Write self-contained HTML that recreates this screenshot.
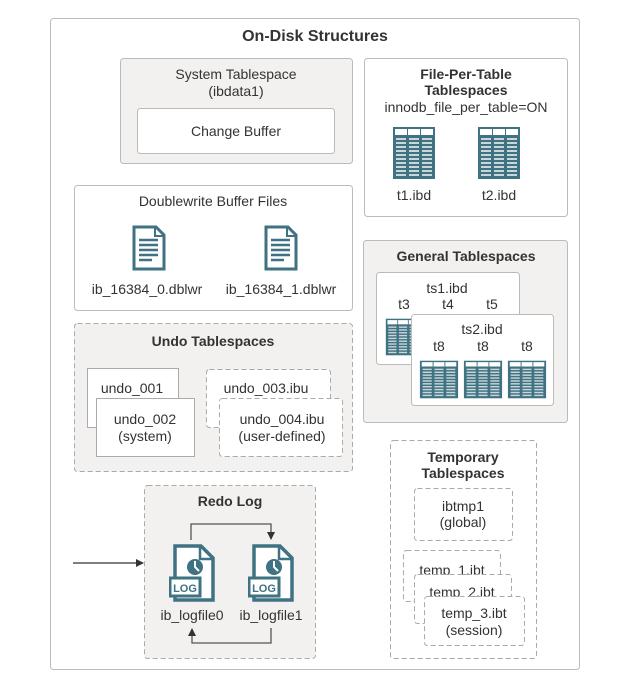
<!DOCTYPE html>
<html><head><meta charset="utf-8"><style>
html,body{margin:0;padding:0;background:#fff;}
svg{display:block;}
text{font-family:"Liberation Sans",sans-serif;fill:#333;}
.t{font-size:14px;}
.b{font-size:14px;font-weight:bold;}
</style></head><body>
<svg width="640" height="679" viewBox="0 0 640 679" xmlns="http://www.w3.org/2000/svg">
<defs>
<symbol id="tbl" viewBox="0 0 44 54" preserveAspectRatio="none">
<rect x="1" y="1" width="42" height="52" fill="#3f7282"/>
<rect x="3" y="3" width="12" height="6" fill="#fff"/><rect x="16" y="3" width="12" height="6" fill="#fff"/><rect x="29" y="3" width="12" height="6" fill="#fff"/>
<g fill="#c9d6da">
<rect x="4" y="12" width="10" height="2"/><rect x="4" y="16" width="10" height="2"/><rect x="4" y="20" width="10" height="2"/><rect x="4" y="24" width="10" height="2"/><rect x="4" y="28" width="10" height="2"/><rect x="4" y="32" width="10" height="2"/><rect x="4" y="36" width="10" height="2"/><rect x="4" y="40" width="10" height="2"/><rect x="4" y="44" width="10" height="2"/><rect x="4" y="48" width="10" height="2"/>
<rect x="17" y="12" width="10" height="2"/><rect x="17" y="16" width="10" height="2"/><rect x="17" y="20" width="10" height="2"/><rect x="17" y="24" width="10" height="2"/><rect x="17" y="28" width="10" height="2"/><rect x="17" y="32" width="10" height="2"/><rect x="17" y="36" width="10" height="2"/><rect x="17" y="40" width="10" height="2"/><rect x="17" y="44" width="10" height="2"/><rect x="17" y="48" width="10" height="2"/>
<rect x="30" y="12" width="10" height="2"/><rect x="30" y="16" width="10" height="2"/><rect x="30" y="20" width="10" height="2"/><rect x="30" y="24" width="10" height="2"/><rect x="30" y="28" width="10" height="2"/><rect x="30" y="32" width="10" height="2"/><rect x="30" y="36" width="10" height="2"/><rect x="30" y="40" width="10" height="2"/><rect x="30" y="44" width="10" height="2"/><rect x="30" y="48" width="10" height="2"/>
</g>
</symbol>
<symbol id="doc" viewBox="0 0 34 46">
<path d="M2 2 H24 L32 10 V44 H2 Z" fill="#fff" stroke="#3f7282" stroke-width="3"/>
<path d="M23 2 V11 H32" fill="none" stroke="#3f7282" stroke-width="2"/>
<g stroke="#3f7282" stroke-width="2.5"><line x1="7" y1="15" x2="26" y2="15"/><line x1="7" y1="20" x2="26" y2="20"/><line x1="7" y1="25" x2="26" y2="25"/><line x1="7" y1="30" x2="26" y2="30"/><line x1="7" y1="35" x2="20" y2="35"/></g>
</symbol>
<symbol id="log" viewBox="0 0 46 58">
<path d="M6 2 H32 L44 14 V56 H6 Z" fill="#fff" stroke="#3f7282" stroke-width="3.5"/>
<path d="M31 2 V15 H44" fill="none" stroke="#3f7282" stroke-width="2.5"/>
<circle cx="26" cy="23" r="8" fill="#3f7282"/>
<path d="M26 17 V23 L30 27" stroke="#fff" stroke-width="2" fill="none"/>
<rect x="1" y="34" width="30" height="18" fill="#fff" stroke="#3f7282" stroke-width="3"/>
<text x="16" y="48" font-size="11" font-weight="bold" text-anchor="middle" style="fill:#3f7282">LOG</text>
</symbol>
<marker id="ah" markerWidth="8" markerHeight="8" refX="7" refY="4" orient="auto" markerUnits="userSpaceOnUse"><path d="M0 0 L8 4 L0 8 Z" fill="#333"/></marker>
</defs>

<rect x="50.5" y="18.5" width="529" height="651" rx="3" fill="#fff" stroke="#bbb"/>
<text x="315" y="41" class="b" text-anchor="middle" style="font-size:16px">On-Disk Structures</text>

<rect x="120.5" y="58.5" width="232" height="105" rx="3" fill="#f2f1ef" stroke="#bbb"/>
<text x="236" y="79" class="t" text-anchor="middle">System Tablespace</text>
<text x="236" y="96" class="t" text-anchor="middle">(ibdata1)</text>
<rect x="137.5" y="108.5" width="197" height="45" rx="3" fill="#fff" stroke="#bbb"/>
<text x="236" y="136" class="t" text-anchor="middle">Change Buffer</text>

<rect x="364.5" y="58.5" width="203" height="158" rx="3" fill="#fff" stroke="#bbb"/>
<text x="466" y="79" class="b" text-anchor="middle">File-Per-Table</text>
<text x="466" y="95" class="b" text-anchor="middle">Tablespaces</text>
<text x="466" y="112" class="t" text-anchor="middle">innodb_file_per_table=ON</text>
<use href="#tbl" x="392" y="126" width="44" height="54"/>
<use href="#tbl" x="477" y="126" width="44" height="54"/>
<text x="414" y="200" class="t" text-anchor="middle">t1.ibd</text>
<text x="499" y="200" class="t" text-anchor="middle">t2.ibd</text>

<rect x="74.5" y="185.5" width="278" height="125" rx="3" fill="#fff" stroke="#bbb"/>
<text x="213" y="206" class="t" text-anchor="middle">Doublewrite Buffer Files</text>
<use href="#doc" x="132" y="225" width="34" height="46"/>
<use href="#doc" x="264" y="225" width="34" height="46"/>
<text x="147" y="294" class="t" text-anchor="middle">ib_16384_0.dblwr</text>
<text x="281" y="294" class="t" text-anchor="middle">ib_16384_1.dblwr</text>

<rect x="363.5" y="240.5" width="204" height="182" rx="3" fill="#f2f1ef" stroke="#bbb"/>
<text x="466" y="261" class="b" text-anchor="middle">General Tablespaces</text>
<rect x="376.5" y="272.5" width="143" height="92" rx="3" fill="#fff" stroke="#bbb"/>
<text x="447" y="293" class="t" text-anchor="middle">ts1.ibd</text>
<text x="404" y="309" class="t" text-anchor="middle">t3</text>
<text x="448" y="309" class="t" text-anchor="middle">t4</text>
<text x="492" y="309" class="t" text-anchor="middle">t5</text>
<use href="#tbl" x="385" y="318" width="36" height="38"/>
<rect x="411.5" y="314.5" width="142" height="91" rx="3" fill="#fff" stroke="#bbb"/>
<text x="482" y="334" class="t" text-anchor="middle">ts2.ibd</text>
<text x="439" y="351" class="t" text-anchor="middle">t8</text>
<text x="483" y="351" class="t" text-anchor="middle">t8</text>
<text x="527" y="351" class="t" text-anchor="middle">t8</text>
<use href="#tbl" x="419" y="360" width="40" height="39"/>
<use href="#tbl" x="463" y="360" width="40" height="39"/>
<use href="#tbl" x="507" y="360" width="40" height="39"/>

<rect x="74.5" y="323.5" width="278" height="148" rx="3" fill="#f2f1ef" stroke="#aaa" stroke-dasharray="5,3"/>
<text x="213" y="346" class="b" text-anchor="middle">Undo Tablespaces</text>
<rect x="87.5" y="368.5" width="91" height="59" fill="#fff" stroke="#aaa"/>
<text x="132" y="393" class="t" text-anchor="middle">undo_001</text>
<rect x="96.5" y="398.5" width="98" height="58" fill="#fff" stroke="#aaa"/>
<text x="145" y="424" class="t" text-anchor="middle">undo_002</text>
<text x="145" y="441" class="t" text-anchor="middle">(system)</text>
<rect x="206.5" y="369.5" width="124" height="58" rx="3" fill="#fff" stroke="#aaa" stroke-dasharray="5,3"/>
<text x="266" y="393" class="t" text-anchor="middle">undo_003.ibu</text>
<rect x="219.5" y="398.5" width="123" height="58" rx="3" fill="#fff" stroke="#aaa" stroke-dasharray="5,3"/>
<text x="282" y="424" class="t" text-anchor="middle">undo_004.ibu</text>
<text x="282" y="441" class="t" text-anchor="middle">(user-defined)</text>

<rect x="390.5" y="440.5" width="146" height="218" rx="3" fill="#fff" stroke="#aaa" stroke-dasharray="5,3"/>
<text x="463" y="462" class="b" text-anchor="middle">Temporary</text>
<text x="463" y="478" class="b" text-anchor="middle">Tablespaces</text>
<rect x="414.5" y="488.5" width="98" height="52" rx="3" fill="#fff" stroke="#aaa" stroke-dasharray="5,3"/>
<text x="463" y="511" class="t" text-anchor="middle">ibtmp1</text>
<text x="463" y="527" class="t" text-anchor="middle">(global)</text>
<rect x="403.5" y="550.5" width="97" height="51" rx="3" fill="#fff" stroke="#aaa" stroke-dasharray="5,3"/>
<text x="452" y="575" class="t" text-anchor="middle">temp_1.ibt</text>
<rect x="414.5" y="574.5" width="97" height="49" rx="3" fill="#fff" stroke="#aaa" stroke-dasharray="5,3"/>
<text x="462" y="597" class="t" text-anchor="middle">temp_2.ibt</text>
<rect x="424.5" y="596.5" width="100" height="49" rx="3" fill="#fff" stroke="#aaa" stroke-dasharray="5,3"/>
<text x="474" y="618" class="t" text-anchor="middle">temp_3.ibt</text>
<text x="474" y="635" class="t" text-anchor="middle">(session)</text>

<rect x="144.5" y="485.5" width="171" height="173" rx="3" fill="#f2f1ef" stroke="#aaa" stroke-dasharray="5,3"/>
<text x="230" y="506" class="b" text-anchor="middle">Redo Log</text>
<line x1="73" y1="563" x2="143" y2="563" stroke="#333" stroke-width="1.3" marker-end="url(#ah)"/>
<polyline points="191,540 191,524 271,524 271,539" fill="none" stroke="#555" stroke-width="1.3" marker-end="url(#ah)"/>
<polyline points="271,628 271,643 192,643 192,629" fill="none" stroke="#555" stroke-width="1.3" marker-end="url(#ah)"/>
<use href="#log" x="169" y="544" width="46" height="58"/>
<use href="#log" x="248" y="544" width="46" height="58"/>
<text x="192" y="620" class="t" text-anchor="middle">ib_logfile0</text>
<text x="271" y="620" class="t" text-anchor="middle">ib_logfile1</text>
</svg>
</body></html>
